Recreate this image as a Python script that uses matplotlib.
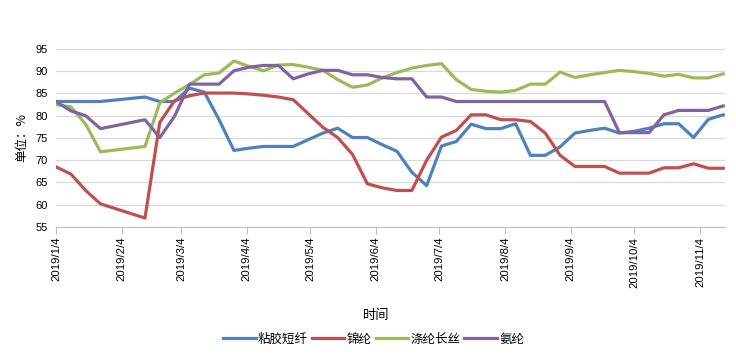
import matplotlib
matplotlib.use("Agg")
import matplotlib.pyplot as plt
import pandas as pd

plt.rcParams['font.family'] = ['Noto Sans CJK SC', 'DejaVu Sans']

# weekly dates (no data on 2/1 and 2/8)
dates = ["2019-01-04", "2019-01-11", "2019-01-18", "2019-01-25",
         "2019-02-15", "2019-02-22",
         "2019-03-01", "2019-03-08", "2019-03-15", "2019-03-22", "2019-03-29",
         "2019-04-05", "2019-04-12", "2019-04-19", "2019-04-26",
         "2019-05-03", "2019-05-10", "2019-05-17", "2019-05-24", "2019-05-31",
         "2019-06-07", "2019-06-14", "2019-06-21", "2019-06-28",
         "2019-07-05", "2019-07-12", "2019-07-19", "2019-07-26",
         "2019-08-02", "2019-08-09", "2019-08-16", "2019-08-23", "2019-08-30",
         "2019-09-06", "2019-09-13", "2019-09-20", "2019-09-27",
         "2019-10-04", "2019-10-11", "2019-10-18", "2019-10-25",
         "2019-11-01", "2019-11-08", "2019-11-15"]

viscose = [83.2, 83.2, 83.2, 83.2, 84.2, 83.2,
           83.2, 86.2, 85.3, 79.1, 72.2,
           72.7, 73.1, 73.1, 73.1,
           74.6, 76.1, 77.2, 75.1, 75.1,
           73.5, 72.0, 67.3, 64.3,
           73.2, 74.2, 78.1, 77.1,
           77.1, 78.2, 71.1, 71.1, 73.0,
           76.1, 76.7, 77.2, 76.1,
           76.5, 77.2, 78.2, 78.2,
           75.1, 79.2, 80.2]

nylon = [68.5, 66.9, 63.2, 60.2, 57.0, 78.5,
         83.4, 84.5, 85.1, 85.1, 85.1,
         84.9, 84.6, 84.2, 83.6,
         80.5, 77.4, 75.1, 71.3, 64.7,
         63.8, 63.2, 63.2, 70.0,
         75.2, 76.7, 80.2, 80.2,
         79.1, 79.1, 78.7, 76.1, 71.1,
         68.6, 68.6, 68.6, 67.1,
         67.1, 67.1, 68.3, 68.3,
         69.2, 68.2, 68.2]

polyester = [82.5, 82.0, 78.1, 71.9, 73.1, 82.9,
             85.1, 87.0, 89.2, 89.6, 92.3,
             91.1, 90.1, 91.4, 91.5,
             90.9, 90.2, 88.1, 86.4, 86.9,
             88.5, 89.7, 90.7, 91.3,
             91.7, 88.1, 85.9, 85.5,
             85.3, 85.7, 87.1, 87.1, 89.8,
             88.6, 89.2, 89.7, 90.2,
             89.9, 89.5, 88.9, 89.3,
             88.5, 88.5, 89.4]

spandex = [83.2, 81.1, 80.0, 77.1, 79.1, 75.1,
           79.9, 87.1, 87.1, 87.1, 90.1,
           90.9, 91.3, 91.3, 88.3,
           89.4, 90.2, 90.2, 89.2, 89.2,
           88.6, 88.3, 88.3, 84.2,
           84.2, 83.2, 83.2, 83.2,
           83.2, 83.2, 83.2, 83.2, 83.2,
           83.2, 83.2, 83.2, 76.2,
           76.2, 76.2, 80.2, 81.2,
           81.2, 81.2, 82.2]

series_names = ["粘胶短纤", "锦纶", "涤纶长丝", "氨纶"]
tick_dates = ["2019-%02d-04" % m for m in range(1, 12)]
tick_labels = ["2019/%d/4" % m for m in range(1, 12)]
yticks = [55, 60, 65, 70, 75, 80, 85, 90, 95]

x = pd.to_datetime(dates)
colors = ["#4F81BD", "#C0504D", "#9BBB59", "#8064A2"]
num_font = ["Liberation Sans", "DejaVu Sans"]

fig = plt.figure(figsize=(7.36, 3.56), dpi=100)
ax = fig.add_axes([0.0761, 0.3624, 0.9089, 0.5])

for vals, name, c in zip([viscose, nylon, polyester, spandex], series_names, colors):
    ax.plot(x, vals, color=c, lw=2.3, label=name, solid_joinstyle="round")

ax.set_ylim(55, 95)
ax.set_yticks(yticks)
ax.set_xlim(pd.Timestamp("2019-01-04"), pd.Timestamp("2019-11-15 20:00"))
ax.set_xticks(pd.to_datetime(tick_dates))
ax.set_xticklabels(tick_labels, rotation=90, fontsize=8.2, family=num_font)
for lab in ax.get_yticklabels():
    lab.set_fontsize(8)
    lab.set_family(num_font)

ax.grid(axis="y", color="#D9D9D9", lw=0.9)
ax.set_axisbelow(True)
for s in ["top", "right", "left"]:
    ax.spines[s].set_visible(False)
ax.spines["bottom"].set_color("#BFBFBF")
ax.tick_params(axis="y", length=0, pad=6)
ax.tick_params(axis="x", length=5, color="#BFBFBF", pad=2)

ax.set_ylabel("单位：%", fontsize=9, va="center")
ax.yaxis.set_label_coords(-0.051, 0.5)
ax.set_xlabel("时间", fontsize=9.5, va="center")
ax.xaxis.set_label_coords(0.478, -0.5)

ax.legend(loc="center", bbox_to_anchor=(0.475, -0.63), ncol=4, frameon=False,
          fontsize=9, handlelength=2.6, handletextpad=0.2, columnspacing=0.3,
          borderpad=0, borderaxespad=0)

fig.savefig("out.png", dpi=100)
